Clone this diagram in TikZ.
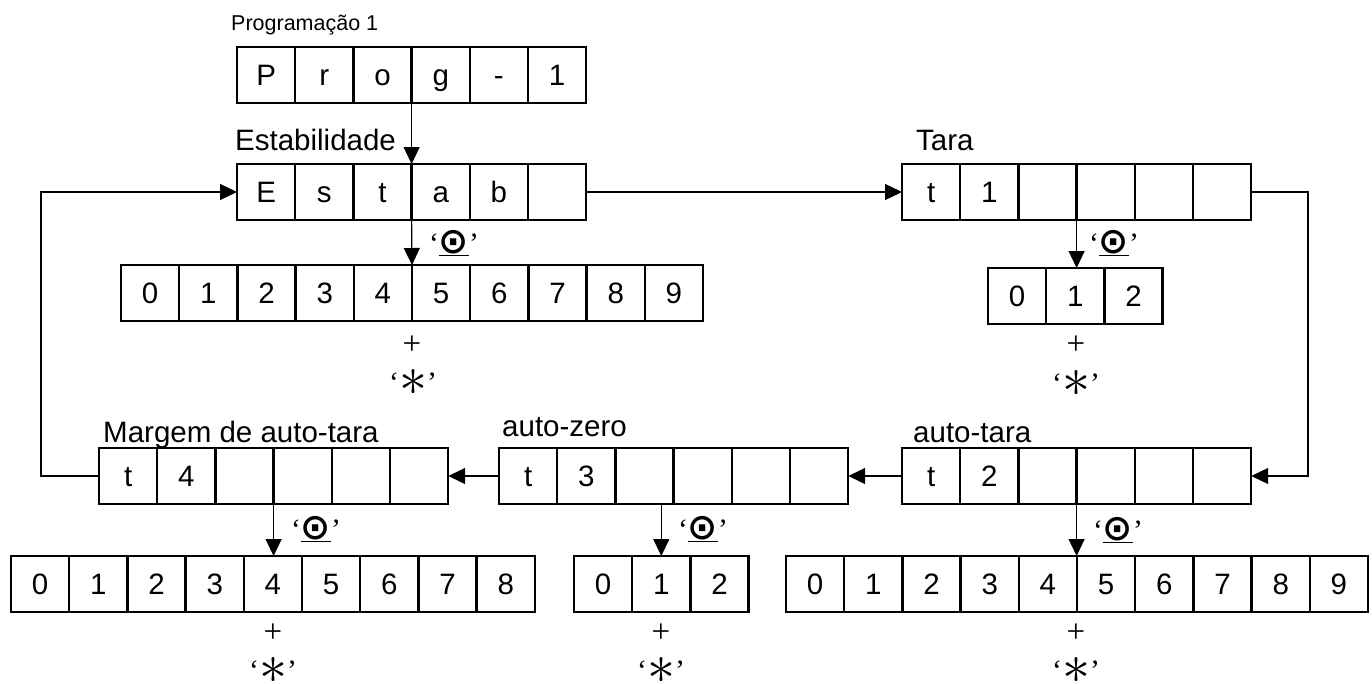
\RequirePackage{fix-cm}
\documentclass[tikz,border=0pt]{standalone}
\usepackage{fontspec}
\setmainfont{Liberation Sans}
\newfontfamily\serifface{Liberation Serif}
\newfontfamily\symface{DejaVu Sans}
\usetikzlibrary{arrows.meta}

% width of one display cell
\def\cw{58.2}

% a row of display cells: name, left x, top y, list of characters
\newcommand\cellrow[4]{%
  \foreach \c [count=\k] in {#4} {
    \node[cell, anchor=north west] (#1-\k) at ({#2+(\k-1)*\cw}, #3) {\c};
  }}

\begin{document}
\begin{tikzpicture}[x=1pt, y=-1pt,
  every node/.style={font=\fontsize{29.5}{32}\selectfont},
  cell/.style={draw, line width=2.3pt, minimum width=\cw pt, minimum height=56pt,
    inner sep=0pt, outer sep=0pt, text height=21.5pt, text depth=0pt},
  arr/.style={line width=1.2pt, -{Triangle[length=17pt, width=16pt]}},
  title/.style={anchor=base west, inner sep=0pt},
  keylbl/.style={anchor=base, inner sep=0pt},
  pluslbl/.style={inner sep=0pt, font=\serifface\fontsize{33}{36}\selectfont},
  starlbl/.style={inner sep=0pt}]

\useasboundingbox (0,0) rectangle (1372,683);

% display rows
\cellrow{prog}{237}{47}{P,r,o,g,-,1}
\cellrow{estab}{237}{164}{E,s,t,a,b,{}}
\cellrow{numa}{121}{265}{0,1,2,3,4,5,6,7,8,9}
\cellrow{tara}{902}{164}{t,1,{},{},{},{}}
\cellrow{tsel}{988}{268}{0,1,2}
\cellrow{margem}{99}{448}{t,4,{},{},{},{}}
\cellrow{azero}{499}{448}{t,3,{},{},{},{}}
\cellrow{atara}{902}{448}{t,2,{},{},{},{}}
\cellrow{bleft}{11}{556}{0,1,2,3,4,5,6,7,8}
\cellrow{zsel}{574}{556}{0,1,2}
\cellrow{bright}{786}{556}{0,1,2,3,4,5,6,7,8,9}

% row titles
\node[title, font=\fontsize{21.5}{24}\selectfont] (tprog) at (231,30) {Programação 1};
\node[title] (testab) at (235,150) {Estabilidade};
\node[title] (ttara) at (916,150) {Tara};
\node[title] (tmargem) at (103,442) {Margem de auto-tara};
\node[title] (tazero) at (502,436) {auto-zero};
\node[title] (tatara) at (913,442) {auto-tara};

% flow between parameters
\coordinate (rloop) at (1308,192);
\coordinate (lloop) at (41,476);
\draw[arr] (prog-3.south east) -- (estab-3.north east);
\draw[arr] (estab-6.east) -- (tara-1.west);
\draw[arr] (tara-6.east) -- (rloop) |- (atara-6.east);
\draw[arr] (atara-1.west) -- (azero-6.east);
\draw[arr] (azero-1.west) -- (margem-6.east);
\draw[arr] (margem-1.west) -- (lloop) |- (estab-1.west);

% selection of a value
\draw[arr] (estab-3.south east) -- (numa-5.north east);
\draw[arr] (tara-3.south east) -- (tara-3.south east |- tsel-2.north);
\draw[arr] (atara-3.south east) -- (atara-3.south east |- bright-5.north east);
\draw[arr] (azero-3.south -| zsel-2.north) -- (zsel-2.north);
\draw[arr] (margem-3.south east) -- (margem-3.south east |- bleft-5.north);

% key hints
\def\keytext{{\serifface ‘}\underline{\symface\bfseries\fontsize{36}{36}\selectfont ⊙}{\serifface ’}}
\def\startext{\raisebox{3pt}{\serifface ‘}{\fontsize{56}{56}\selectfont$\ast$}\raisebox{3pt}{\serifface ’}}
\node[keylbl] (ka) at (454,253) {\keytext};
\node[keylbl] (kb) at (1114,253) {\keytext};
\node[keylbl] (kc) at (316,539) {\keytext};
\node[keylbl] (kd) at (703,539) {\keytext};
\node[keylbl] (ke) at (1118,540) {\keytext};

\node[pluslbl] (pa) at (412,345) {+};
\node[pluslbl] (pb) at (1076,345) {+};
\node[pluslbl] (pc) at (273,633) {+};
\node[pluslbl] (pd) at (661,633) {+};
\node[pluslbl] (pe) at (1076,633) {+};

\node[starlbl] (sa) at (413,382) {\startext};
\node[starlbl] (sb) at (1076,383) {\startext};
\node[starlbl] (sc) at (273,670) {\startext};
\node[starlbl] (sd) at (661,670) {\startext};
\node[starlbl] (se) at (1076,670) {\startext};
\end{tikzpicture}
\end{document}
